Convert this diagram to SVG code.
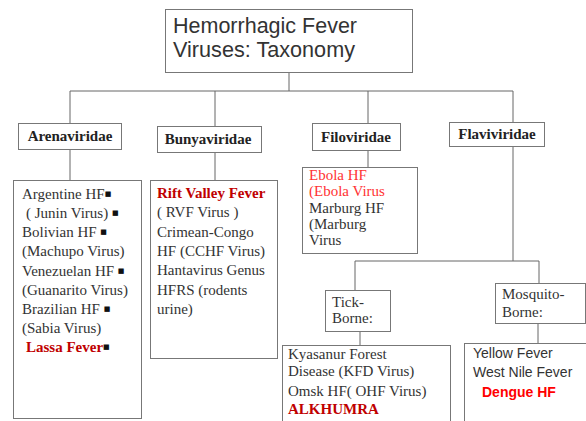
<svg xmlns="http://www.w3.org/2000/svg" width="586" height="421" viewBox="0 0 586 421">
<style>
.box{fill:#fff;stroke:#777;stroke-width:1}
.ln{stroke:#666;stroke-width:1;fill:none}
.fam{font-family:"Liberation Serif",serif;font-weight:bold;font-size:15px;fill:#222;text-anchor:middle}
.ser{font-family:"Liberation Serif",serif;font-size:15px;fill:#333}
.san{font-family:"Liberation Sans",sans-serif;font-size:14px;fill:#333}
.red{fill:#c00000;font-weight:bold}
.blt{fill:#111;font-family:"DejaVu Sans",sans-serif;font-size:7px;font-weight:normal}
</style>
<rect width="586" height="421" fill="#fff"/>
<g id="connectors">
<path class="ln" d="M289 73V91M70 91H513M70 91V123M215 91V126M368 91V123M513 91V122"/>
<path class="ln" d="M70 149V180M215 152V180M368 150V167M513 146V261M355 261H539M355 261V290M539 261V283M360 331V345M538 323V343"/>
</g>
<g id="title">
<rect class="box" x="165.500" y="9.500" width="247" height="63"/>
<text font-family="Liberation Sans,sans-serif" font-size="21.500" fill="#333"><tspan x="173" y="33" textLength="184" lengthAdjust="spacingAndGlyphs">Hemorrhagic Fever</tspan><tspan x="173" y="57" textLength="182" lengthAdjust="spacingAndGlyphs">Viruses: Taxonomy</tspan></text>
</g>
<g id="arenaviridae">
<rect class="box" x="18.500" y="123.500" width="103" height="26"/>
<text class="fam" x="70" y="141">Arenaviridae</text>
</g>
<g id="bunyaviridae">
<rect class="box" x="157.500" y="126.500" width="104" height="26"/>
<text class="fam" x="208" y="144">Bunyaviridae</text>
</g>
<g id="filoviridae">
<rect class="box" x="312.500" y="123.500" width="88" height="27"/>
<text class="fam" x="356" y="142">Filoviridae</text>
</g>
<g id="flaviviridae">
<rect class="box" x="449.500" y="122.500" width="95" height="24"/>
<text class="fam" x="497" y="139">Flaviviridae</text>
</g>
<g id="arena-list">
<rect class="box" x="13.500" y="180.500" width="128" height="238"/>
<text class="ser">
<tspan x="22" y="199">Argentine HF<tspan class="blt" dy="-3">■</tspan></tspan>
<tspan x="26" y="218">( Junin Virus) <tspan class="blt" dy="-3">■</tspan></tspan>
<tspan x="22" y="237">Bolivian HF  <tspan class="blt" dy="-3">■</tspan></tspan>
<tspan x="22" y="256">(Machupo Virus)</tspan>
<tspan x="22" y="276">Venezuelan HF <tspan class="blt" dy="-3">■</tspan></tspan>
<tspan x="22" y="295">(Guanarito Virus)</tspan>
<tspan x="22" y="314">Brazilian HF <tspan class="blt" dy="-3">■</tspan></tspan>
<tspan x="22" y="333">(Sabia Virus)</tspan>
<tspan x="26" y="352" class="red">Lassa Fever</tspan><tspan class="blt" dy="-3">■</tspan>
</text>
</g>
<g id="bunya-list">
<rect class="box" x="150.500" y="180.500" width="127" height="178"/>
<text class="ser">
<tspan x="157" y="198" class="red">Rift Valley Fever</tspan>
<tspan x="157" y="217">( RVF Virus )</tspan>
<tspan x="157" y="237">Crimean-Congo</tspan>
<tspan x="157" y="256">HF (CCHF Virus)</tspan>
<tspan x="157" y="275">Hantavirus Genus</tspan>
<tspan x="157" y="295">HFRS (rodents</tspan>
<tspan x="157" y="314">urine)</tspan>
</text>
</g>
<g id="filo-list">
<rect class="box" x="302.500" y="167.500" width="115" height="86"/>
<text class="ser">
<tspan x="309" y="180" fill="#ff3333">Ebola HF</tspan>
<tspan x="309" y="196" fill="#ff3333">(Ebola Virus</tspan>
<tspan x="309" y="213">Marburg HF</tspan>
<tspan x="309" y="229">(Marburg</tspan>
<tspan x="309" y="245">Virus</tspan>
</text>
</g>
<g id="tick-borne">
<rect class="box" x="325.500" y="290.500" width="65" height="41"/>
<text class="ser"><tspan x="332" y="307">Tick-</tspan><tspan x="332" y="323">Borne:</tspan></text>
</g>
<g id="mosquito-borne">
<rect class="box" x="495.500" y="283.500" width="90" height="40"/>
<text class="ser"><tspan x="502" y="299">Mosquito-</tspan><tspan x="502" y="317">Borne:</tspan></text>
</g>
<g id="tick-list">
<rect class="box" x="282.500" y="345.500" width="168" height="80"/>
<text class="ser">
<tspan x="288" y="359">Kyasanur Forest</tspan>
<tspan x="288" y="376">Disease (KFD Virus)</tspan>
<tspan x="288" y="396">Omsk HF( OHF Virus)</tspan>
<tspan x="288" y="414" class="red">ALKHUMRA</tspan>
</text>
</g>
<g id="mosquito-list">
<rect class="box" x="464.500" y="343.500" width="125" height="82"/>
<text class="san">
<tspan x="473" y="358">Yellow Fever</tspan>
<tspan x="473" y="377">West Nile Fever</tspan>
<tspan x="482" y="397" fill="#ff0000" font-weight="bold">Dengue HF</tspan>
</text>
</g>
</svg>
